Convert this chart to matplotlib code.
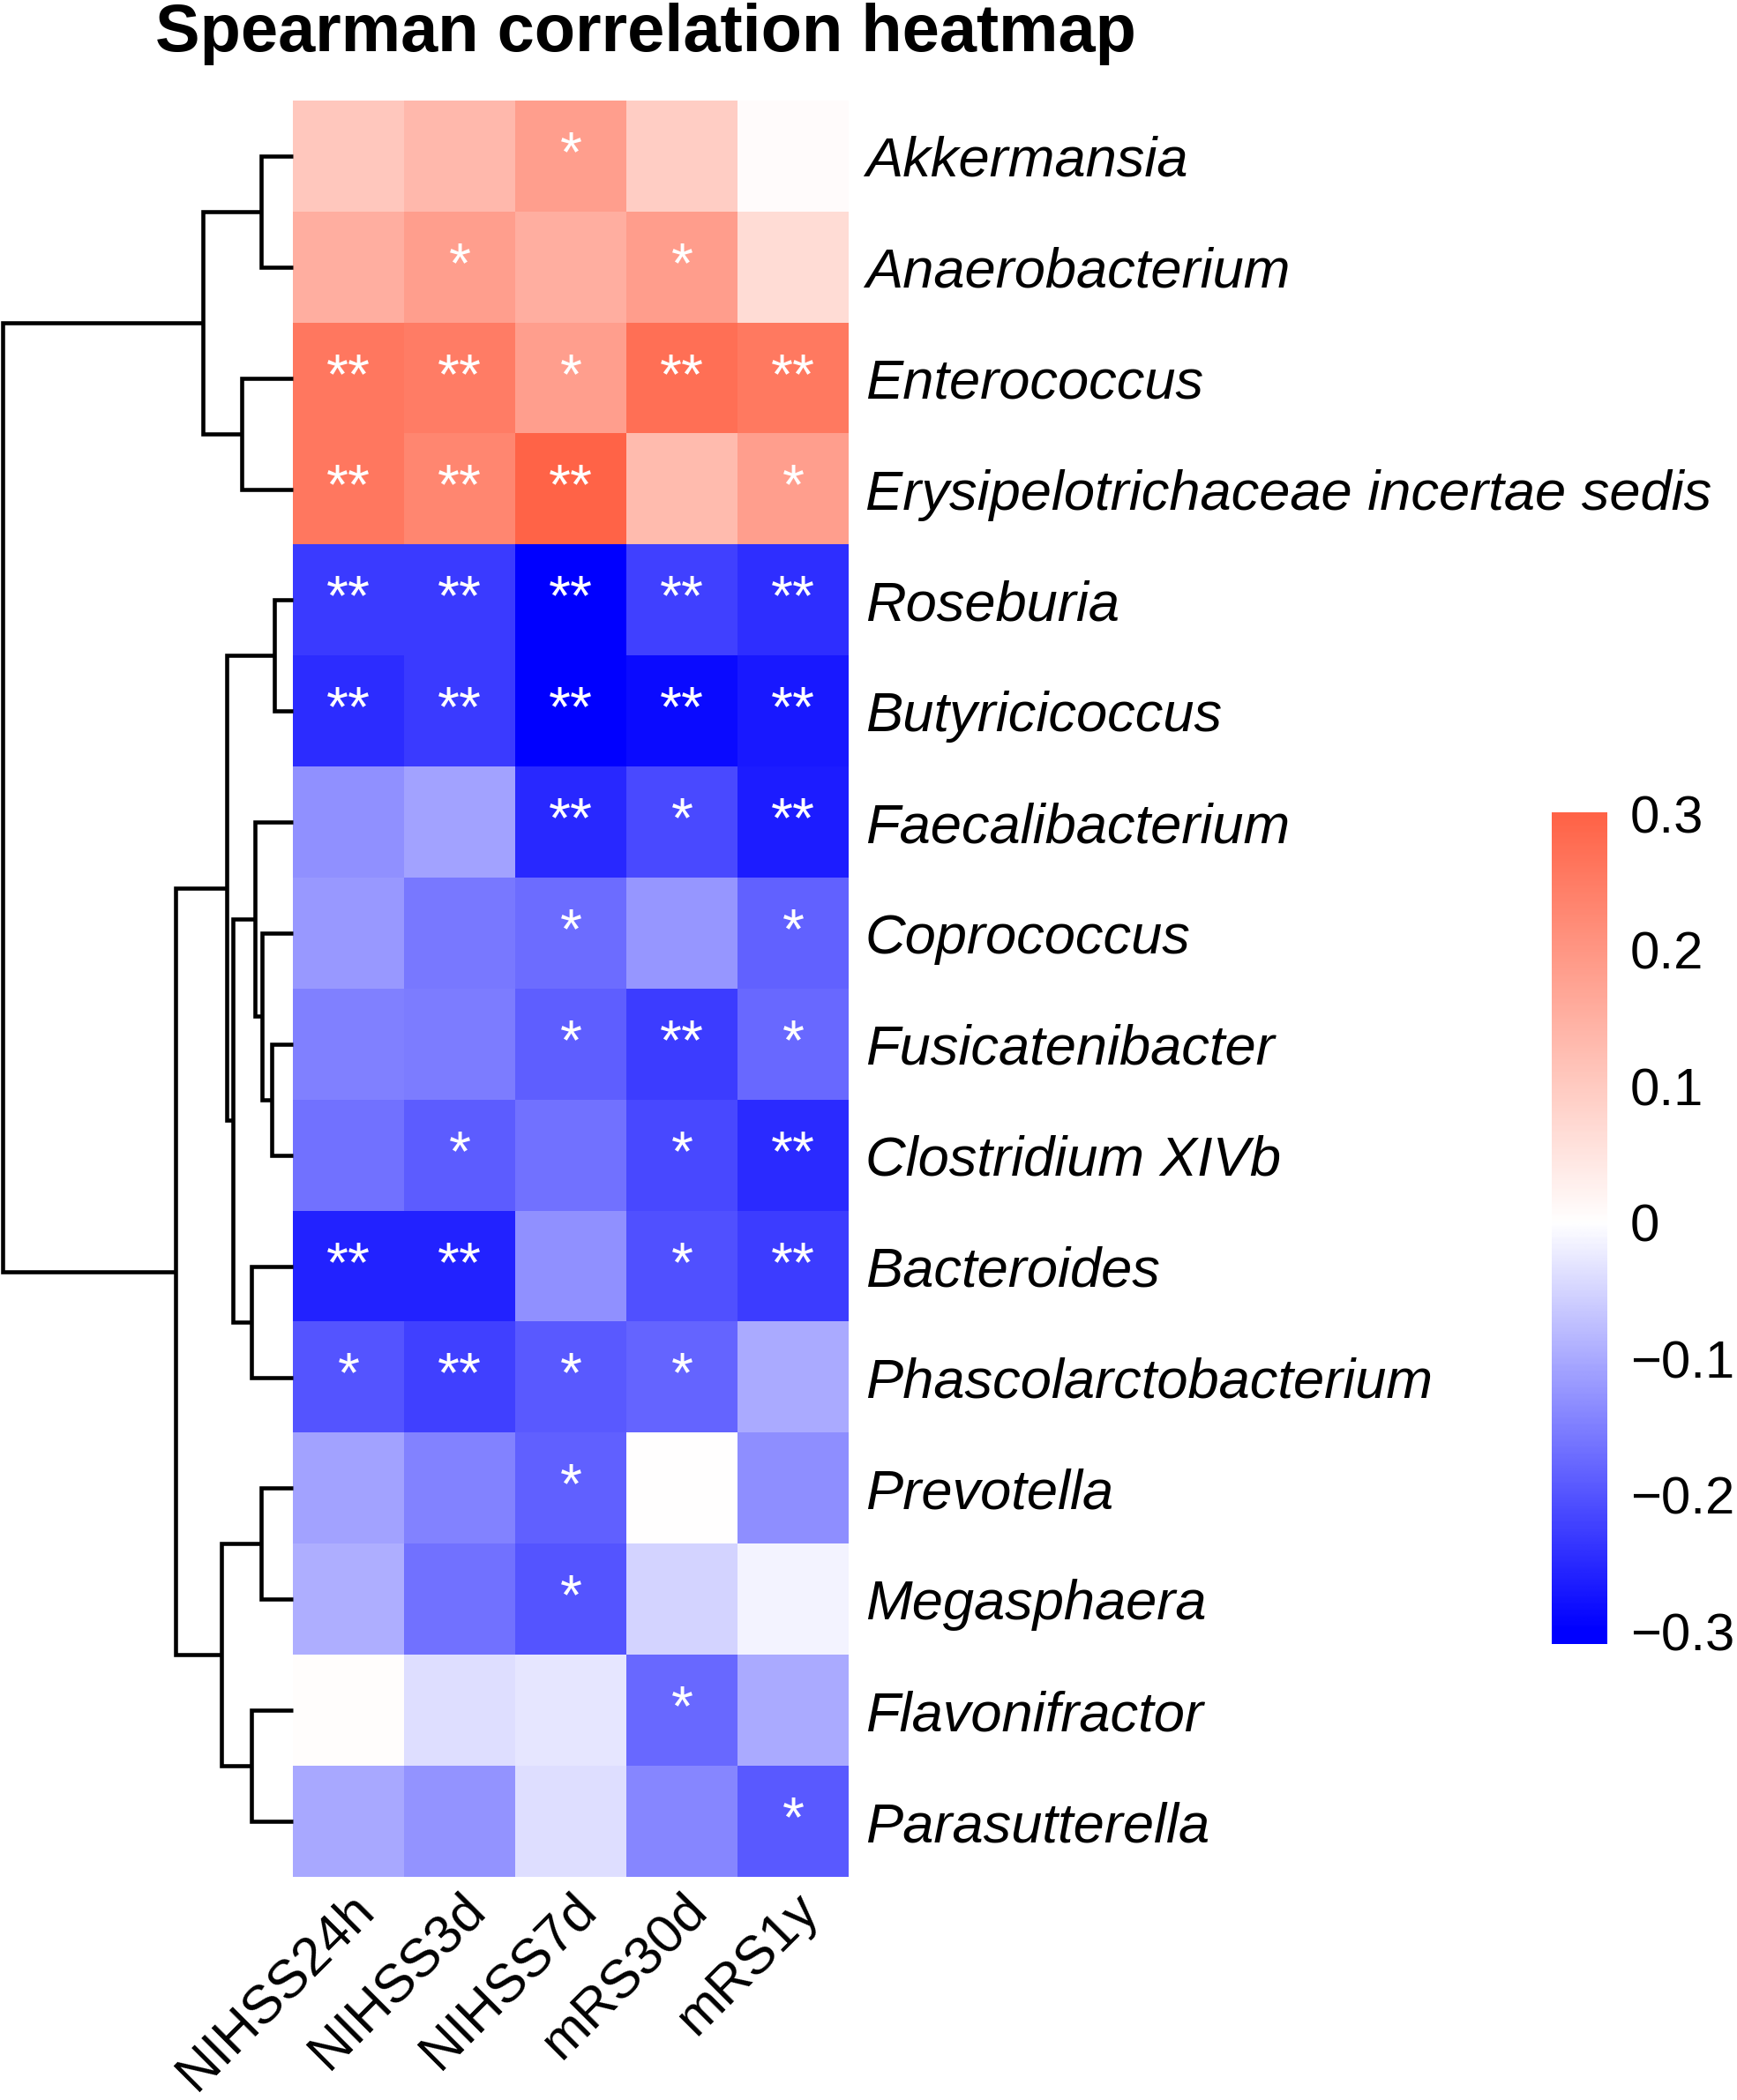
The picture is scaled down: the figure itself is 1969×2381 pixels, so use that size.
import numpy as np
import matplotlib
matplotlib.use("Agg")
import matplotlib.pyplot as plt
from matplotlib.colors import LinearSegmentedColormap, Normalize

plt.rcParams['font.family'] = ['Liberation Sans', 'DejaVu Sans']

# generos (filas, en el orden del dendrograma) y variables clinicas (columnas)
generos = ["Akkermansia", "Anaerobacterium", "Enterococcus",
           "Erysipelotrichaceae incertae sedis", "Roseburia", "Butyricicoccus",
           "Faecalibacterium", "Coprococcus", "Fusicatenibacter", "Clostridium XIVb",
           "Bacteroides", "Phascolarctobacterium", "Prevotella", "Megasphaera",
           "Flavonifractor", "Parasutterella"]
variables = ["NIHSS24h", "NIHSS3d", "NIHSS7d", "mRS30d", "mRS1y"]

rho_nihss24h = [0.106, 0.154, 0.260, 0.260, -0.230, -0.247, -0.130, -0.121,
                -0.149, -0.165, -0.259, -0.200, -0.108, -0.094, 0.003, -0.102]
rho_nihss3d = [0.135, 0.183, 0.250, 0.230, -0.230, -0.230, -0.108, -0.159,
               -0.153, -0.192, -0.259, -0.224, -0.147, -0.165, -0.039, -0.126]
rho_nihss7d = [0.183, 0.154, 0.183, 0.300, -0.300, -0.300, -0.253, -0.173,
               -0.188, -0.165, -0.129, -0.194, -0.186, -0.200, -0.029, -0.039]
rho_mrs30d = [0.096, 0.187, 0.275, 0.129, -0.224, -0.286, -0.212, -0.124,
              -0.229, -0.215, -0.206, -0.182, 0.000, -0.050, -0.176, -0.141]
rho_mrs1y = [0.006, 0.067, 0.256, 0.183, -0.244, -0.270, -0.267, -0.185,
             -0.176, -0.250, -0.229, -0.100, -0.133, -0.014, -0.100, -0.194]

# significancia
sig_nihss24h = ["", "", "**", "**", "**", "**", "", "", "", "", "**", "*", "", "", "", ""]
sig_nihss3d = ["", "*", "**", "**", "**", "**", "", "", "", "*", "**", "**", "", "", "", ""]
sig_nihss7d = ["*", "", "*", "**", "**", "**", "**", "*", "*", "", "", "*", "*", "*", "", ""]
sig_mrs30d = ["", "*", "**", "", "**", "**", "*", "", "**", "*", "*", "*", "", "", "*", ""]
sig_mrs1y = ["", "", "**", "*", "**", "**", "**", "*", "*", "**", "**", "", "", "", "", "*"]

# fusiones del clustering de filas: (hijo a, hijo b, altura); ids >= 16 son clusters
fusiones = [(0, 1, 0.36), (2, 3, 0.58), (16, 17, 1.02),
            (4, 5, 0.21), (8, 9, 0.24), (7, 20, 0.35), (6, 21, 0.43),
            (10, 11, 0.47), (22, 23, 0.68), (19, 24, 0.75),
            (12, 13, 0.36), (14, 15, 0.47), (26, 27, 0.81),
            (25, 28, 1.33), (18, 29, 3.29)]

cbar_ticks = [0.3, 0.2, 0.1, 0.0, -0.1, -0.2, -0.3]
cbar_labels = ["0.3", "0.2", "0.1", "0", "\u22120.1", "\u22120.2", "\u22120.3"]

rho = np.column_stack([rho_nihss24h, rho_nihss3d, rho_nihss7d, rho_mrs30d, rho_mrs1y])
sig = list(zip(sig_nihss24h, sig_nihss3d, sig_nihss7d, sig_mrs30d, sig_mrs1y))

W, H = 1969, 2381
fig = plt.figure(figsize=(W / 100, H / 100), dpi=100)

cmap = LinearSegmentedColormap.from_list("bwt", ["#0000FF", "#FFFFFF", "#FF6347"])
norm = Normalize(vmin=-0.3, vmax=0.3)

n = len(generos)

# heatmap
ax = fig.add_axes([332 / W, 1 - 2128 / H, 630 / W, 2014 / H])
ax.imshow(rho, cmap=cmap, norm=norm, aspect='auto', interpolation='nearest')
for i in range(n):
    for j in range(len(variables)):
        if sig[i][j]:
            ax.text(j, i, sig[i][j], ha='center', va='center', color='white', fontsize=46)
for s in ax.spines.values():
    s.set_visible(False)
ax.yaxis.tick_right()
ax.set_yticks(range(n))
ax.set_yticklabels(generos, fontstyle='italic', fontsize=45.5)
ax.set_xticks(range(len(variables)))
ax.set_xticklabels(variables, fontsize=44, rotation=45, ha='right', va='top',
                   rotation_mode='anchor')
ax.tick_params(axis='y', length=0, pad=13.5)
ax.tick_params(axis='x', length=0, pad=6)
ax.set_xlim(-0.5, len(variables) - 0.5)
ax.set_ylim(n - 0.5, -0.5)

# dendrograma de filas
ax_d = fig.add_axes([0, 1 - 2128 / H, 332 / W, 2014 / H])
pos = {i: (0.0, float(i)) for i in range(n)}
for k, (a, b, h) in enumerate(fusiones):
    ha, ya = pos[a]
    hb, yb = pos[b]
    ax_d.plot([ha, h, h, hb], [ya, ya, yb, yb], color='black', lw=3.3,
              solid_joinstyle='miter', solid_capstyle='butt', clip_on=False)
    pos[n + k] = (h, (ya + yb) / 2)
ax_d.set_xlim(3.32, 0)
ax_d.set_ylim(n - 0.5, -0.5)
ax_d.axis('off')

# leyenda de color
cax = fig.add_axes([1759 / W, 1 - 1864 / H, 63 / W, 943 / H])
lo, hi = -0.309, 0.301
grad = np.linspace(lo, hi, 400).reshape(-1, 1)
cax.imshow(grad, cmap=cmap, norm=norm, aspect='auto', origin='lower',
           extent=[0, 1, lo, hi])
cax.set_ylim(lo, hi)
cax.set_xticks([])
cax.yaxis.tick_right()
cax.set_yticks(cbar_ticks)
cax.set_yticklabels(cbar_labels, fontsize=43)
cax.tick_params(axis='y', length=0, pad=18.5)
for s in cax.spines.values():
    s.set_visible(False)

fig.text(176 / W, 1 - 58 / H, "Spearman correlation heatmap", fontsize=54.5,
         fontweight='bold', ha='left', va='baseline')

fig.savefig("out.png", dpi=100)
